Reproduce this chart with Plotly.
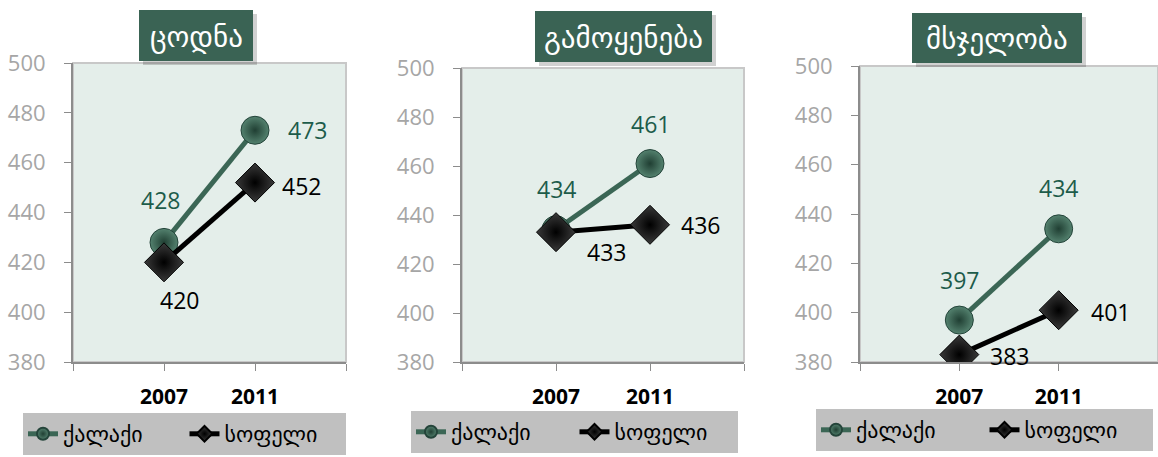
import plotly.graph_objects as go

years = ["2007", "2011"]
subjects = ["ცოდნა", "გამოყენება", "მსჯელობა"]
series_names = ["ქალაქი", "სოფელი"]
city = [[428, 473], [434, 461], [397, 434]]
village = [[420, 452], [433, 436], [383, 401]]

W, H = 1158, 457
GREEN = "#3b6655"
LABEL_GREEN = "#1d5c4a"
FONT = "Open Sans, DejaVu Sans, sans-serif"

# pixel boxes of the three plot areas: left, right, top, bottom
boxes = [(73, 346, 63, 362), (462, 744, 68, 362), (860, 1158, 66, 362)]
titles_px = [(139, 253, 10, 61), (535, 712, 11, 62), (912, 1082, 13, 63)]
legends_px = [(23, 413, 323), (411, 411, 327), (816, 409, 337)]
# label offsets (px) for [city 2007, city 2011], [village 2007, village 2011]
offsets = [
    [[(-4, 42), (52, 0)], [(15, -38), (46, -3)]],
    [[(0, 41), (0, 40)], [(50, -20), (50, 0)]],
    [[(0, 40), (0, 41)], [(50, -1), (52, -2)]],
]

fig = go.Figure()
xpos = list(range(len(years)))

for i, subj in enumerate(subjects):
    l, r, t, b = boxes[i]
    n = "" if i == 0 else str(i + 1)
    xa, ya = "x" + n, "y" + n
    leg = "legend" if i == 0 else "legend" + str(i + 1)

    fig.add_trace(go.Scatter(
        x=xpos, y=city[i], xaxis=xa, yaxis=ya, name=series_names[0], legend=leg,
        mode="lines+markers",
        line=dict(color=GREEN, width=5),
        marker=dict(symbol="circle", size=28, color="#54826f",
                    gradient=dict(type="radial", color="#203f33"),
                    line=dict(color="#24443a", width=1)),
    ))
    fig.add_trace(go.Scatter(
        x=xpos, y=village[i], xaxis=xa, yaxis=ya, name=series_names[1], legend=leg,
        mode="lines+markers",
        line=dict(color="black", width=5),
        marker=dict(symbol="diamond", size=30, color="#3a3a3a",
                    gradient=dict(type="radial", color="black"),
                    line=dict(color="black", width=1)),
    ))

    for j in range(len(years)):
        dx, dy = offsets[i][0][j]
        fig.add_annotation(x=xpos[j], y=city[i][j], xref=xa, yref=ya,
                           text=str(city[i][j]), showarrow=False,
                           xshift=dx, yshift=dy,
                           font=dict(color=LABEL_GREEN, size=23, family=FONT))
        dx, dy = offsets[i][1][j]
        fig.add_annotation(x=xpos[j], y=village[i][j], xref=xa, yref=ya,
                           text=str(village[i][j]), showarrow=False,
                           xshift=dx, yshift=dy,
                           font=dict(color="black", size=23, family=FONT))

    fig.update_layout({
        "xaxis" + n: dict(
            domain=[l / W, r / W], range=[-1, 2], anchor=ya,
            tickvals=[-1, 0, 1, 2], ticktext=[""] + years + [""],
            ticks="outside", ticklen=7, tickcolor="#8c8c8c",
            showline=True, linecolor="#8c8c8c", linewidth=2,
            showgrid=False, zeroline=False, ticklabelstandoff=8,
            automargin=False,
            tickfont=dict(size=21, color="black", family=FONT, weight="bold"),
        ),
        "yaxis" + n: dict(
            domain=[1 - b / H, 1 - t / H], range=[380, 500], dtick=20, anchor=xa,
            ticks="outside", ticklen=7, tickcolor="#8c8c8c",
            showline=True, linecolor="#8c8c8c", linewidth=2,
            showgrid=False, zeroline=False, ticklabelstandoff=14,
            automargin=False,
            tickfont=dict(size=22, color="#a6a6a6", family=FONT),
        ),
        leg: dict(
            x=legends_px[i][0] / W, y=1 - legends_px[i][1] / H,
            xanchor="left", yanchor="top", orientation="h",
            bgcolor="#c0c0c0", borderwidth=0,
            entrywidth=(legends_px[i][2] - 90) / 2,
            font=dict(size=22, color="black", family=FONT),
            itemsizing="constant", tracegroupgap=0,
        ),
    })

    # plot area background and light border
    fig.add_shape(type="rect", xref="paper", yref="paper", layer="below",
                  x0=l / W, x1=r / W, y0=1 - b / H, y1=1 - t / H,
                  fillcolor="#e4eeea", line=dict(color="#c8c8c8", width=2))

    # title box with shadow
    tl, tr, tt, tb = titles_px[i]
    fig.add_shape(type="rect", xref="paper", yref="paper",
                  x0=(tl + 4) / W, x1=(tr + 4) / W, y0=1 - (tb + 4) / H, y1=1 - (tt + 4) / H,
                  fillcolor="rgba(0,0,0,0.18)", line=dict(width=0))
    fig.add_shape(type="rect", xref="paper", yref="paper",
                  x0=tl / W, x1=tr / W, y0=1 - tb / H, y1=1 - tt / H,
                  fillcolor="#3a6354", line=dict(width=0))
    fig.add_annotation(x=(tl + tr) / 2 / W, y=1 - (tt + tb) / 2 / H,
                       xref="paper", yref="paper", showarrow=False,
                       xanchor="center", yanchor="middle",
                       text=subj, font=dict(size=29, color="white", family=FONT))

fig.update_layout(
    width=W, height=H,
    margin=dict(l=0, r=0, t=0, b=0, autoexpand=False),
    paper_bgcolor="white", plot_bgcolor="rgba(0,0,0,0)",
    showlegend=True,
)

fig.write_html("out.html", config={"displayModeBar": False},
               post_script="document.body.style.margin='0';")
